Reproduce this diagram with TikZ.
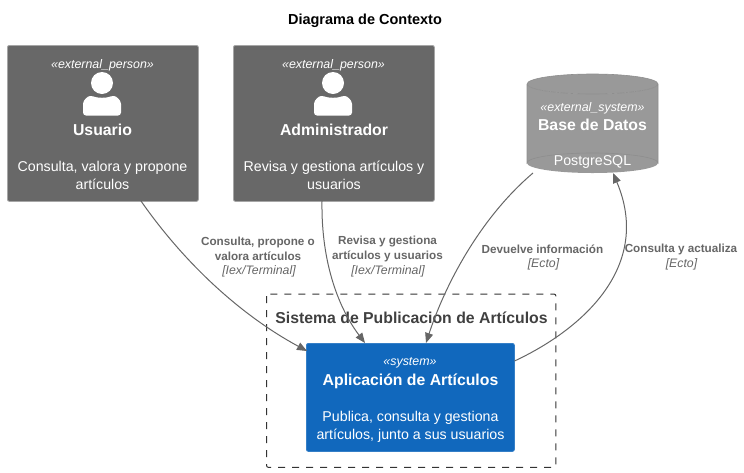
\documentclass[tikz,border=0pt]{standalone}
\usepackage{fontspec}
\setmainfont{Liberation Sans}
\usetikzlibrary{arrows.meta, shapes.geometric}

\begin{document}
\begin{tikzpicture}[x=1pt, y=-1pt]
\definecolor{persongray}{HTML}{686868}
\definecolor{dbgray}{HTML}{999999}
\definecolor{sysblue}{HTML}{1168BD}
\definecolor{edgegray}{HTML}{666666}
\tikzstyle{box}=[rectangle, rounded corners=2pt, inner sep=0pt, line width=0.8pt, anchor=north west]
\tikzstyle{stereo}=[text=white, inner sep=0pt, font=\fontsize{12.4}{14}\selectfont\itshape]
\tikzstyle{nme}=[text=white, inner sep=0pt, font=\fontsize{15.8}{19}\selectfont\bfseries]
\tikzstyle{dsc}=[text=white, inner sep=0pt, align=center, font=\fontsize{14.2}{18.5}\selectfont]
\tikzstyle{lbl}=[text=edgegray, inner sep=0pt, align=center, font=\fontsize{11.7}{15}\selectfont\bfseries]
\tikzstyle{lbi}=[text=edgegray, inner sep=0pt, font=\fontsize{12.3}{15}\selectfont\itshape]
\tikzstyle{rel}=[draw=edgegray, line width=1pt, -{Stealth[length=10pt, width=8pt, inset=0pt]}]
	\useasboundingbox (0,0) rectangle (744,472);
	\node[inner sep=0pt, font=\fontsize{14.5}{16}\selectfont\bfseries] (title) at (365,21){Diagrama de Contexto};

	\node[box, draw=black!35, fill=persongray, minimum width=191pt, minimum height=156pt] (usuario) at (7,45){};
	\node[box, draw=black!35, fill=persongray, minimum width=201pt, minimum height=156pt] (admin) at (233,45){};
	\node[box, draw=none, minimum width=131pt, minimum height=99pt] (db) at (527,74){};
	\node[draw=none, inner sep=0pt, minimum width=289pt, minimum height=173pt, anchor=north west] (bound) at (266.5,294){};
	\draw[black!80, line width=1pt, dash pattern=on 7pt off 7pt, rounded corners=2pt] (bound.north west) rectangle (bound.south east);
	\node[box, draw=sysblue!85!white, fill=sysblue, minimum width=208pt, minimum height=108pt] (app) at (306,343){};

	% cilindro de la base de datos
	\fill[dbgray] (527,84) arc[start angle=180, end angle=360, x radius=65.5pt, y radius=10pt] -- (658,163) arc[start angle=0, end angle=180, x radius=65.5pt, y radius=-10pt] -- cycle;
	\fill[dbgray] (527,84) arc[start angle=180, end angle=0, x radius=65.5pt, y radius=-10pt] arc[start angle=0, end angle=-180, x radius=65.5pt, y radius=-10pt];
	\draw[dbgray!93!black, line width=0.6pt] (527,84) arc[start angle=180, end angle=360, x radius=65.5pt, y radius=-10pt] arc[start angle=0, end angle=180, x radius=65.5pt, y radius=-10pt] (527,84) -- (527,163) arc[start angle=180, end angle=360, x radius=65.5pt, y radius=-10pt] -- (658,84);

	% iconos de persona
	\foreach \x in {102,333}{
		\fill[white] (\x,83) circle (11);
		\fill[white, rounded corners=3pt] (\x-19,115.5) -- (\x-19,107) .. controls (\x-19,100) and (\x-14,96) .. (\x-9,96) .. controls (\x-4,98) and (\x+4,98) .. (\x+9,96) .. controls (\x+14,96) and (\x+19,100) .. (\x+19,107) -- (\x+19,115.5) -- cycle;
	}

	\node[stereo] (us) at (102.5,65){«external\_person»};
	\node[nme] (un) at (102.5,130){Usuario};
	\node[dsc] (ud) at (102.5,175.5){Consulta, valora y propone\\artículos};

	\node[stereo] (as) at (333.5,65){«external\_person»};
	\node[nme] (an) at (334,130){Administrador};
	\node[dsc] (ad) at (334,175.5){Revisa y gestiona artículos y\\usuarios};

	\node[stereo] (ds) at (592.5,108){«external\_system»};
	\node[nme] (dn) at (592.5,124.5){Base de Datos};
	\node[inner sep=0pt, text=white, font=\fontsize{14.2}{16}\selectfont] (dd) at (592.5,162){PostgreSQL};

	\node[black!75, inner sep=0pt, font=\fontsize{15.8}{19}\selectfont\bfseries] (bt) at (411.5,317.5){Sistema de Publicacion de Artículos};

	\node[stereo] (ss) at (410,363){«system»};
	\node[nme] (sn) at (410.5,381){Aplicación de Artículos};
	\node[dsc] (sd) at (410.5,427){Publica, consulta y gestiona\\artículos, junto a sus usuarios};

	\node[lbl] (e1) at (258,249){Consulta, propone o\\valora artículos};
	\node[lbi] (i1) at (259,271){[Iex/Terminal]};
	\node[lbl] (e2) at (387.5,249){Revisa y gestiona\\artículos y usuarios};
	\node[lbi] (i2) at (388,271){[Iex/Terminal]};
	\node[lbl] (e3) at (542.5,249){Devuelve información};
	\node[lbi] (i3) at (543.5,264.5){[Ecto]};
	\node[lbl] (e4) at (681,249){Consulta y actualiza};
	\node[lbi] (i4) at (681.5,264.5){[Ecto]};

	\coordinate (uo) at (141,201);
	\coordinate (ui) at (307,351);
	\coordinate (ao) at (322,201);
	\coordinate (ai) at (365,343);
	\coordinate (do) at (533,173);
	\coordinate (di) at (426,343);
	\coordinate (so) at (514.5,361);
	\coordinate (si) at (613,173);

	\draw[rel] (uo) .. controls (180,257) and (235,312) .. (ui);
	\draw[rel] (ao) .. controls (321,265) and (340,310) .. (ai);
	\draw[rel] (do) .. controls (480,218) and (445,285) .. (di);
	\draw[rel] (so) .. controls (585,328) and (652,265) .. (si);

\end{tikzpicture}
\end{document}
